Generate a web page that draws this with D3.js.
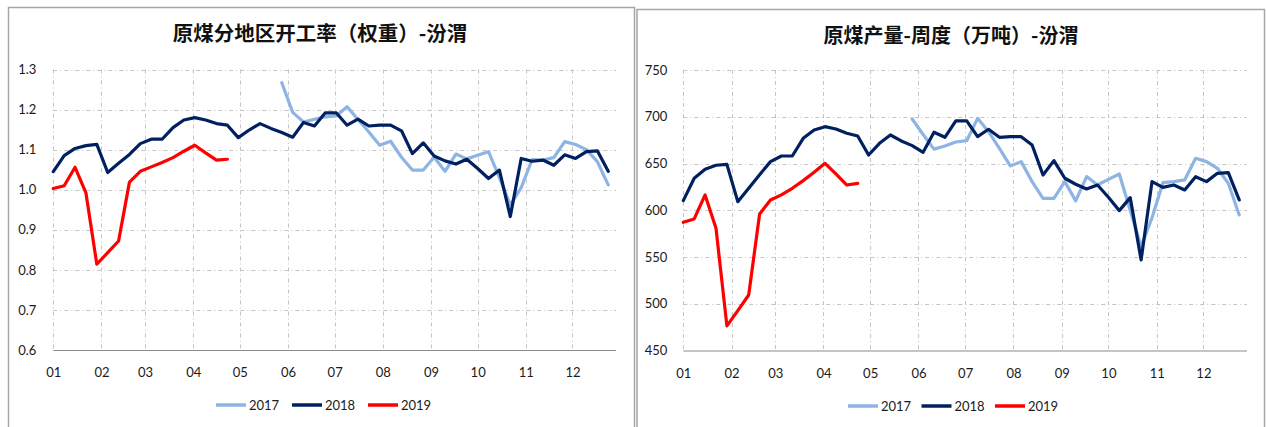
<!DOCTYPE html>
<html>
<head>
<meta charset="utf-8">
<script src="https://cdn.jsdelivr.net/npm/d3@7"></script>
<style>
  html, body { margin: 0; padding: 0; background: #fff; }
  svg { display: block; }
  .tick text { font-family: Lato, "Liberation Sans", sans-serif; font-size: 13px; fill: #1a1a1a; }
</style>
</head>
<body>
<svg id="chart" width="1266" height="427"></svg>
<script>
// ---- Data ----
// Weekly categories (common calendar, month-day)
const weeks = [
  "01-01","01-08","01-15","01-22","01-29",
  "02-05","02-12","02-19","02-26",
  "03-05","03-12","03-19","03-26",
  "04-02","04-09","04-16","04-23","04-30",
  "05-07","05-14","05-21","05-28",
  "06-04","06-11","06-18","06-25",
  "07-02","07-09","07-16","07-23","07-30",
  "08-06","08-13","08-20","08-27",
  "09-03","09-10","09-17","09-24",
  "10-01","10-08","10-15","10-22","10-29",
  "11-05","11-12","11-19","11-26",
  "12-03","12-10","12-17","12-24"
];
const monthLabels = ["01","02","03","04","05","06","07","08","09","10","11","12"];
const seriesNames = ["2017","2018","2019"];

// Left chart: 原煤分地区开工率（权重）-汾渭
const rateTicks = [0.6, 0.7, 0.8, 0.9, 1.0, 1.1, 1.2, 1.3];
const rate2017 = [null,null,null,null,null,null,null,null,null,null,null,null,null,null,null,null,null,null,null,null,null,
  1.267,1.193,1.169,1.176,1.182,1.184,1.207,1.175,1.144,1.111,1.121,1.081,1.049,1.049,1.081,1.046,1.089,1.077,1.086,1.095,
  1.030,0.962,1.005,1.075,1.074,1.080,1.120,1.113,1.100,1.070,1.012];
const rate2018 = [1.045,1.085,1.103,1.110,1.113,1.043,1.066,1.088,1.115,1.126,1.126,1.155,1.174,1.180,1.174,1.165,1.161,
  1.130,1.149,1.165,1.153,1.143,1.131,1.168,1.159,1.192,1.192,1.161,1.176,1.159,1.161,1.161,1.147,1.090,1.117,1.084,
  1.072,1.064,1.076,1.053,1.028,1.049,0.933,1.078,1.071,1.074,1.061,1.087,1.078,1.095,1.097,1.046];
const rate2019 = [1.003,1.010,1.056,0.992,0.814,0.843,0.872,1.019,1.046,1.057,1.068,1.080,1.096,1.111,1.092,1.074,1.076];

// Right chart: 原煤产量-周度（万吨）-汾渭
const outputTicks = [450, 500, 550, 600, 650, 700, 750];
const output2017 = [null,null,null,null,null,null,null,null,null,null,null,null,null,null,null,null,null,null,null,null,null,
  697.6,681,665.4,668.7,673,674.4,698.3,684,666.2,647.4,652,630.6,612.8,612.8,630.6,610,636,627,633,638.8,
  600,561,592,629.5,630.6,632.4,655.6,652,644.9,628.8,595];
const output2018 = [610.3,634.2,643.8,648.1,649.1,609.2,623.5,638,652,658,658,676.9,685.8,689.4,686.9,682.3,679.4,
  659.1,671.6,680.5,674.1,669.1,662,683.4,678,695.5,695.5,678.7,686.6,678,678.7,678.7,669.8,637.7,653.1,634.2,
  627.8,622.8,627,613.9,599.6,613.5,546.9,630.6,624.5,627,621.7,635.9,630.6,639.5,640.2,611];
const output2019 = [587.1,590.7,616.4,580.7,476.3,492.7,509.4,596,611,616.4,623.5,631.7,640.6,650.2,638.8,627,628.8];

const colors = ["#8DB4E2", "#002060", "#FF0000"];

// ---- Drawing ----
const svg = d3.select("#chart");
const parseDay = d3.timeParse("%Y-%m-%d");
const weekDates = weeks.map(w => parseDay("2018-" + w));
const monthStarts = monthLabels.map(m => parseDay("2018-" + m + "-01"));

function drawChart(cfg) {
  const g = svg.append("g");
  // frame
  g.append("rect")
    .attr("x", cfg.frame[0]).attr("y", cfg.frame[1])
    .attr("width", cfg.frame[2]).attr("height", cfg.frame[3])
    .attr("fill", "#fff").attr("stroke", "#A6A6A6").attr("stroke-width", 1.5);

  const x = d3.scaleTime()
    .domain([parseDay("2018-01-01"), parseDay("2018-12-29")])
    .range([cfg.left, cfg.right]);
  const y = d3.scaleLinear().domain(cfg.yDomain).range([cfg.bottom, cfg.top]);

  // horizontal gridlines
  g.append("g").selectAll("line").data(cfg.yTicks.slice(1)).join("line")
    .attr("x1", cfg.left).attr("x2", cfg.right)
    .attr("y1", d => Math.round(y(d)) + 0.5).attr("y2", d => Math.round(y(d)) + 0.5)
    .attr("stroke", "#C4C4C4").attr("stroke-width", 1).attr("stroke-dasharray", "4,3,1,3");
  // vertical gridlines
  g.append("g").selectAll("line").data(monthStarts).join("line")
    .attr("x1", d => Math.round(x(d)) + 0.5).attr("x2", d => Math.round(x(d)) + 0.5)
    .attr("y1", cfg.top).attr("y2", cfg.bottom)
    .attr("stroke", "#C4C4C4").attr("stroke-width", 1).attr("stroke-dasharray", "4,3,1,3");

  // x axis
  const xAxis = d3.axisBottom(x).tickValues(monthStarts)
    .tickFormat((d, i) => monthLabels[i]).tickSize(0).tickPadding(18);
  const xa = g.append("g").attr("transform", `translate(0,${cfg.bottom})`).call(xAxis);
  xa.select(".domain").attr("stroke", "#8C8C8C").attr("stroke-width", 1.2)
    .attr("d", `M${cfg.left},0.5H${cfg.right}`);

  // y axis
  const yAxis = d3.axisLeft(y).tickValues(cfg.yTicks)
    .tickFormat(cfg.yFormat).tickSize(0).tickPadding(cfg.yPad);
  const ya = g.append("g").attr("transform", `translate(${cfg.left},0)`).call(yAxis);
  ya.select(".domain").remove();

  // lines
  const line = d3.line()
    .defined(d => d != null)
    .x((d, i) => x(weekDates[i]))
    .y(d => y(d));
  cfg.series.forEach((s, k) => {
    g.append("path").datum(s)
      .attr("fill", "none").attr("stroke", colors[k]).attr("stroke-width", 3.2)
      .attr("stroke-linejoin", "round").attr("stroke-linecap", "round")
      .attr("d", line);
  });

  // title
  g.append("text")
    .attr("x", cfg.titleX).attr("y", cfg.titleY)
    .attr("text-anchor", "middle")
    .attr("font-family", "'Noto Sans CJK SC', sans-serif")
    .attr("font-weight", "bold").attr("font-size", cfg.titleSize)
    .attr("fill", "#111")
    .text(cfg.title);

  // legend
  const lg = g.append("g");
  seriesNames.forEach((n, k) => {
    const lx = cfg.legendX + k * cfg.legendStep;
    lg.append("line").attr("x1", lx).attr("x2", lx + 30)
      .attr("y1", cfg.legendY).attr("y2", cfg.legendY)
      .attr("stroke", colors[k]).attr("stroke-width", 3.5);
    lg.append("text").attr("x", lx + 33).attr("y", cfg.legendY + 5)
      .attr("font-family", "Lato, 'Liberation Sans', sans-serif").attr("font-size", 13)
      .attr("fill", "#1a1a1a").text(n);
  });
}

drawChart({
  frame: [8.5, 7.5, 626, 440],
  left: 53.3, right: 616, top: 69.5, bottom: 350,
  yDomain: [0.6, 1.3], yTicks: rateTicks, yFormat: d3.format(".1f"), yPad: 17,
  series: [rate2017, rate2018, rate2019],
  title: "原煤分地区开工率（权重）-汾渭", titleX: 320, titleY: 40.5, titleSize: 20.5,
  legendX: 216, legendStep: 76, legendY: 405
});

drawChart({
  frame: [637, 9.5, 627.5, 440],
  left: 683.3, right: 1247, top: 70, bottom: 350.5,
  yDomain: [450, 750], yTicks: outputTicks, yFormat: d3.format("d"), yPad: 16,
  series: [output2017, output2018, output2019],
  title: "原煤产量-周度（万吨）-汾渭", titleX: 951, titleY: 43, titleSize: 20,
  legendX: 848, legendStep: 73.5, legendY: 406
});
</script>
</body>
</html>
